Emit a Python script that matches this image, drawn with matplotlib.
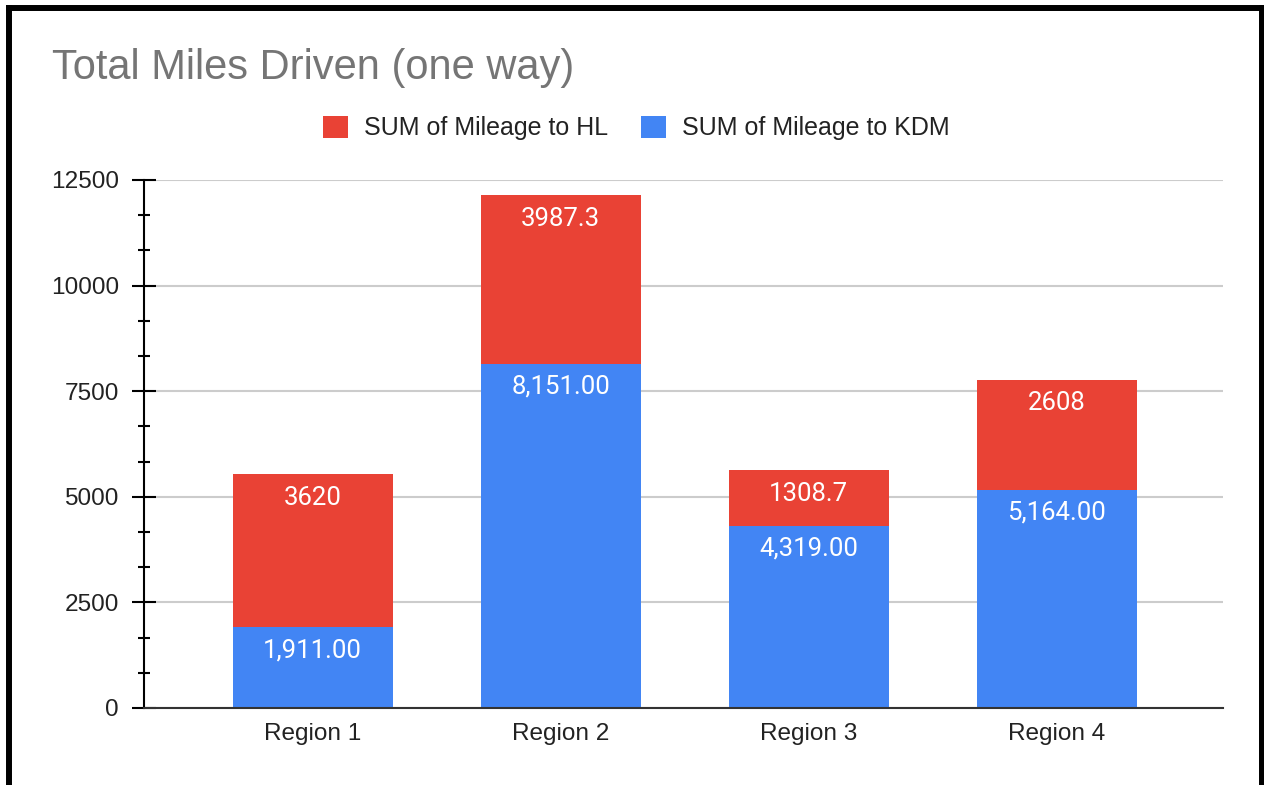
import matplotlib
matplotlib.use("Agg")
import matplotlib.pyplot as plt
from matplotlib.patches import Patch
from matplotlib.lines import Line2D
from matplotlib.ticker import MultipleLocator, FixedLocator
import numpy as np

categories = ["Region 1", "Region 2", "Region 3", "Region 4"]
kdm = [1911.00, 8151.00, 4319.00, 5164.00]
hl = [3620, 3987.3, 1308.7, 2608]
hl_labels = ["3620", "3987.3", "1308.7", "2608"]
series_names = ["SUM of Mileage to HL", "SUM of Mileage to KDM"]
title = "Total Miles Driven (one way)"

RED = "#E94235"
BLUE = "#4285F4"

plt.rcParams['font.family'] = ['Liberation Sans', 'DejaVu Sans']

fig = plt.figure(figsize=(12.64, 7.85), dpi=100)
ax = fig.add_axes([144/1264, 1-708/785, (1223-144)/1264, (708-180)/785])

x = np.arange(len(categories))
w = 0.645
ax.bar(x, kdm, width=w, color=BLUE, zorder=3)
ax.bar(x, hl, width=w, bottom=kdm, color=RED, zorder=3)

for xi, k, h, hlab in zip(x, kdm, hl, hl_labels):
    ax.annotate(f"{k:,.2f}", (xi, k), xytext=(0, -21.5), textcoords="offset points",
                ha="center", va="baseline", color="white", fontsize=18.5,
                family=["Roboto", "DejaVu Sans"], zorder=4)
    ax.annotate(hlab, (xi, k + h), xytext=(0, -22), textcoords="offset points",
                ha="center", va="baseline", color="white", fontsize=18.5,
                family=["Roboto", "DejaVu Sans"], zorder=4)

ax.set_xlim(-0.68, 3.67)
ax.set_ylim(0, 12500)
ax.yaxis.set_major_locator(MultipleLocator(2500))
ax.yaxis.set_minor_locator(FixedLocator([v for v in np.arange(0, 12501, 2500/3)
                                         if abs(v/2500 - round(v/2500)) > 1e-6]))
ax.set_xticks(x)
ax.set_xticklabels(categories)
ax.tick_params(axis='x', length=0, pad=11, labelsize=17.6, labelcolor="#222222")
ax.tick_params(axis='y', which='major', direction='inout', length=17.3, width=1.5,
               color='black', pad=9.5, labelsize=17.6, labelcolor="#222222")
ax.tick_params(axis='y', which='minor', direction='inout', length=8.6, width=1.5,
               color='black')
ax.yaxis.set_major_formatter(plt.FuncFormatter(lambda v, p: f"{int(v)}"))

ax.grid(axis='y', which='major', color="#cccccc", linewidth=1.5, zorder=0)
for s in ["top", "right"]:
    ax.spines[s].set_visible(False)
ax.spines["left"].set_color("black")
ax.spines["left"].set_linewidth(1.5)
ax.spines["left"].set_zorder(5)
ax.spines["bottom"].set_color("#333333")
ax.spines["bottom"].set_linewidth(1.5)
ax.spines["bottom"].set_zorder(5)

fig.text(52/1264, 1-68/785, title, fontsize=30, color="#757575", ha="left", va="center")

handles = [Patch(facecolor=RED, edgecolor="none"), Patch(facecolor=BLUE, edgecolor="none")]
fig.legend(handles, series_names, loc="center", bbox_to_anchor=(636/1264, 1-128/785),
           ncol=2, frameon=False, fontsize=18, handlelength=1.0, handleheight=1.0,
           handletextpad=0.64, columnspacing=1.3, labelcolor="#222222")

# frame border
lw = 4.3
fig.add_artist(Line2D([8.5/1264, 8.5/1264], [0, 1-8/785], transform=fig.transFigure, color="black", lw=lw, solid_capstyle="projecting"))
fig.add_artist(Line2D([8.5/1264, 1262/1264], [1-8/785, 1-8/785], transform=fig.transFigure, color="black", lw=lw, solid_capstyle="projecting"))
fig.add_artist(Line2D([1262/1264, 1262/1264], [0, 1-8/785], transform=fig.transFigure, color="black", lw=lw, solid_capstyle="projecting"))

fig.savefig("out.png", dpi=100, facecolor="white")
